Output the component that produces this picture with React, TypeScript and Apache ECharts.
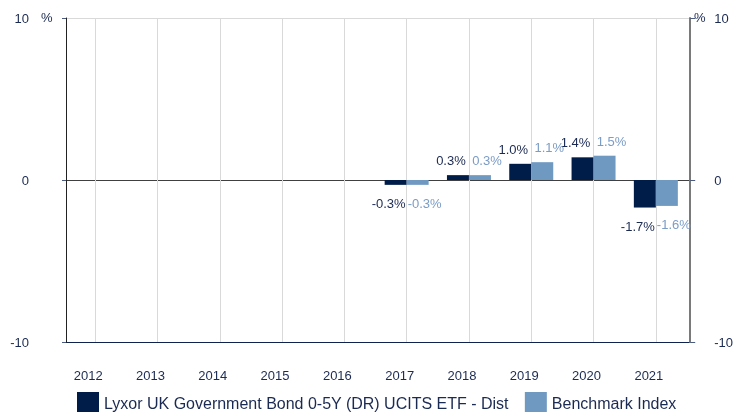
import React, { useEffect, useRef } from "react";
import * as echarts from "echarts";

const years = ["2012", "2013", "2014", "2015", "2016", "2017", "2018", "2019", "2020", "2021"];
const fundValues: (number | null)[] = [null, null, null, null, null, -0.3, 0.3, 1.0, 1.4, -1.7];
const benchValues: (number | null)[] = [null, null, null, null, null, -0.3, 0.3, 1.1, 1.5, -1.6];
const fundName = "Lyxor UK Government Bond 0-5Y (DR) UCITS ETF - Dist";
const benchName = "Benchmark Index";
const yMin = -10;
const yMax = 10;
const yInterval = 10;

const FONT = "'Liberation Sans', Arial, Helvetica, sans-serif";
const NAVY_TEXT = "#1b2a52";
const DARK = "#001c48";
const LIGHT = "#7099c2";
const LIGHT_TEXT = "#7b9cc6";

function buildData(values: (number | null)[]) {
  return values.map((v) => {
    if (v === null) return null;
    return {
      value: v,
      label: {
        position: v < 0 ? "bottom" : "top",
        distance: v < 0 ? 12 : 8,
      },
    };
  });
}

export default function App() {
  const ref = useRef<HTMLDivElement>(null);
  useEffect(() => {
    if (!ref.current) return;
    const chart = echarts.init(ref.current, null, { renderer: "svg" });
    const fmt = (p: any) => `${Number(p.value).toFixed(1)}%`;
    chart.setOption({
      animation: false,
      textStyle: { fontFamily: FONT },
      grid: [
        { left: 66, right: 43, top: 18, bottom: 70 },
        { left: 64, right: 49, top: 18, bottom: 70 },
      ],
      graphic: [
        { type: "text", left: 41, top: 11, style: { text: "%", fontSize: 13, fill: NAVY_TEXT, fontFamily: FONT } },
        { type: "text", left: 694, top: 11, style: { text: "%", fontSize: 13, fill: NAVY_TEXT, fontFamily: FONT } },
      ],
      legend: {
        left: 77,
        top: 392,
        padding: 0,
        itemWidth: 22,
        itemHeight: 22,
        itemGap: 16,
        icon: "rect",
        textStyle: { fontSize: 16, color: NAVY_TEXT, fontFamily: FONT },
        data: [fundName, benchName],
      },
      xAxis: [
        { gridIndex: 0, type: "category", data: years, show: false },
        {
          gridIndex: 1,
          type: "category",
          data: years,
          axisLine: { show: false },
          axisTick: { show: false },
          axisLabel: {
            margin: 27,
            fontSize: 13,
            color: NAVY_TEXT,
            fontFamily: FONT,
            padding: [0, 14, 0, 0],
          },
          splitLine: { show: true, alignWithLabel: true, lineStyle: { color: "#d9d9d9", width: 1 } },
        },
      ],
      yAxis: [
        {
          gridIndex: 0,
          type: "value",
          position: "left",
          min: yMin,
          max: yMax,
          interval: yInterval,
          axisLine: { show: true, lineStyle: { color: "#222222", width: 1 } },
          axisTick: { show: true, length: 4, lineStyle: { color: "#4a5a80" } },
          axisLabel: { margin: 37, fontSize: 13, color: NAVY_TEXT, fontFamily: FONT },
          splitLine: { show: true, lineStyle: { color: ["#0f2250", "#404040", "#d9d9d9"], width: 1 } },
        },
        {
          gridIndex: 0,
          type: "value",
          position: "right",
          min: yMin,
          max: yMax,
          interval: yInterval,
          axisLine: { show: true, lineStyle: { color: "#7a7a7a", width: 2 } },
          axisTick: { show: true, length: 5, lineStyle: { color: "#4a5a80" } },
          axisLabel: { margin: 24, fontSize: 13, color: NAVY_TEXT, fontFamily: FONT, align: "left" },
          splitLine: { show: false },
        },
        { gridIndex: 1, type: "value", min: yMin, max: yMax, interval: yInterval, show: false },
      ],
      series: [
        {
          name: fundName,
          type: "bar",
          xAxisIndex: 1,
          yAxisIndex: 2,
          barWidth: 22,
          barGap: "0%",
          itemStyle: { color: DARK },
          label: {
            show: true,
            formatter: fmt,
            offset: [-7, 0],
            fontSize: 13,
            color: NAVY_TEXT,
            fontFamily: FONT,
          },
          data: buildData(fundValues),
        },
        {
          name: benchName,
          type: "bar",
          xAxisIndex: 1,
          yAxisIndex: 2,
          barWidth: 22,
          barGap: "0%",
          itemStyle: { color: LIGHT },
          label: {
            show: true,
            formatter: fmt,
            offset: [7, 0],
            fontSize: 13,
            color: LIGHT_TEXT,
            fontFamily: FONT,
          },
          data: buildData(benchValues),
        },
      ],
    });
    return () => chart.dispose();
  }, []);
  return <div ref={ref} style={{ position: "fixed", left: 0, top: 0, width: 736, height: 412 }} />;
}
